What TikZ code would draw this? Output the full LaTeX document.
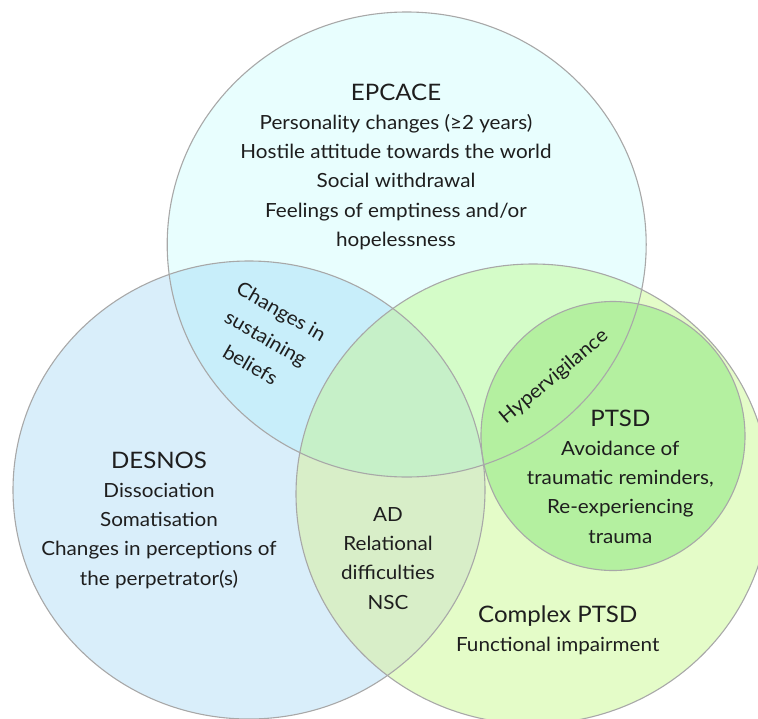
\documentclass[tikz,border=0pt]{standalone}
\usepackage{fontspec}
\setmainfont{Lato}[FakeStretch=1.06]
\definecolor{topc}{HTML}{E8FEFE}
\definecolor{leftc}{HTML}{D9EEFA}
\definecolor{rightc}{HTML}{E4FCC8}
\definecolor{tlc}{HTML}{C8EEFA}
\definecolor{trc}{HTML}{D4FCC8}
\definecolor{lrc}{HTML}{D8EEC8}
\definecolor{allc}{HTML}{C6F0C8}
\definecolor{ptsdc}{HTML}{B4F0A0}
\definecolor{ringc}{HTML}{A8A8A8}
\definecolor{txtc}{HTML}{1E1E1E}
\begin{document}
\begin{tikzpicture}[x=1pt,y=-1pt,
  topE/.style={insert path={(406.7,244.5) ellipse [x radius=239.5pt, y radius=232.5pt]}},
  leftE/.style={insert path={(249,490) ellipse [x radius=236pt, y radius=229pt]}},
  rightE/.style={insert path={(533,494) ellipse [x radius=237pt, y radius=230pt]}},
  ptsdE/.style={insert path={(613,436) ellipse [x radius=132pt, y radius=134.5pt]}},
  ring/.style={draw=ringc, line width=1.1pt},
  lbl/.style={align=center, text=txtc, inner sep=0pt, font=\fontsize{19.5}{29.3}\selectfont},
  ttl/.style={text=txtc, inner sep=0pt, font=\fontsize{22.7}{29.3}\selectfont},
]
\useasboundingbox (0,0) rectangle (758,718);
% base fills
\fill[topc, topE];
\fill[leftc, leftE];
\fill[rightc, rightE];
% pairwise overlaps
\begin{scope}\clip[topE];\fill[tlc, leftE];\end{scope}
\begin{scope}\clip[topE];\fill[trc, rightE];\end{scope}
\begin{scope}\clip[leftE];\fill[lrc, rightE];\end{scope}
\begin{scope}\clip[topE];\clip[leftE];\fill[allc, rightE];\end{scope}
\fill[ptsdc, ptsdE];
% outlines
\draw[ring, topE];
\draw[ring, leftE];
\draw[ring, rightE];
\draw[ring, ptsdE];
% texts (multi-line nodes: base = baseline of last line)
\node[ttl, anchor=base] (epT) at (396,100) {EPCACE};
\node[lbl, anchor=base] (epB) at (396,246.5) {Personality changes (≥2 years)\\Hostile attitude towards the world\\Social withdrawal\\Feelings of emptiness and/or\\hopelessness};
\node[ttl, anchor=base] (deT) at (159,468) {DESNOS};
\node[lbl, anchor=base] (deB) at (159,585.2) {Dissociation\\Somatisation\\Changes in perceptions of\\the perpetrator(s)};
\node[lbl, anchor=base] (adB) at (388,609.2) {AD\\Relational\\difficulties\\NSC};
\node[ttl, anchor=base] (ptT) at (620.3,426) {PTSD};
\node[lbl, anchor=base] (ptB) at (620.3,543.2) {Avoidance of\\traumatic reminders,\\Re-experiencing\\trauma};
\node[ttl, anchor=base] (cpT) at (557.7,622.7) {Complex PTSD};
\node[lbl, anchor=base] (cpB) at (557.7,651.5) {Functional impairment};
\node[lbl, rotate=-30, font=\fontsize{19.5}{31}\selectfont] (csb) at (266,338) {Changes in\\sustaining\\beliefs};
\node[lbl, rotate=40] (hyp) at (554,377) {Hypervigilance};
\end{tikzpicture}
\end{document}
